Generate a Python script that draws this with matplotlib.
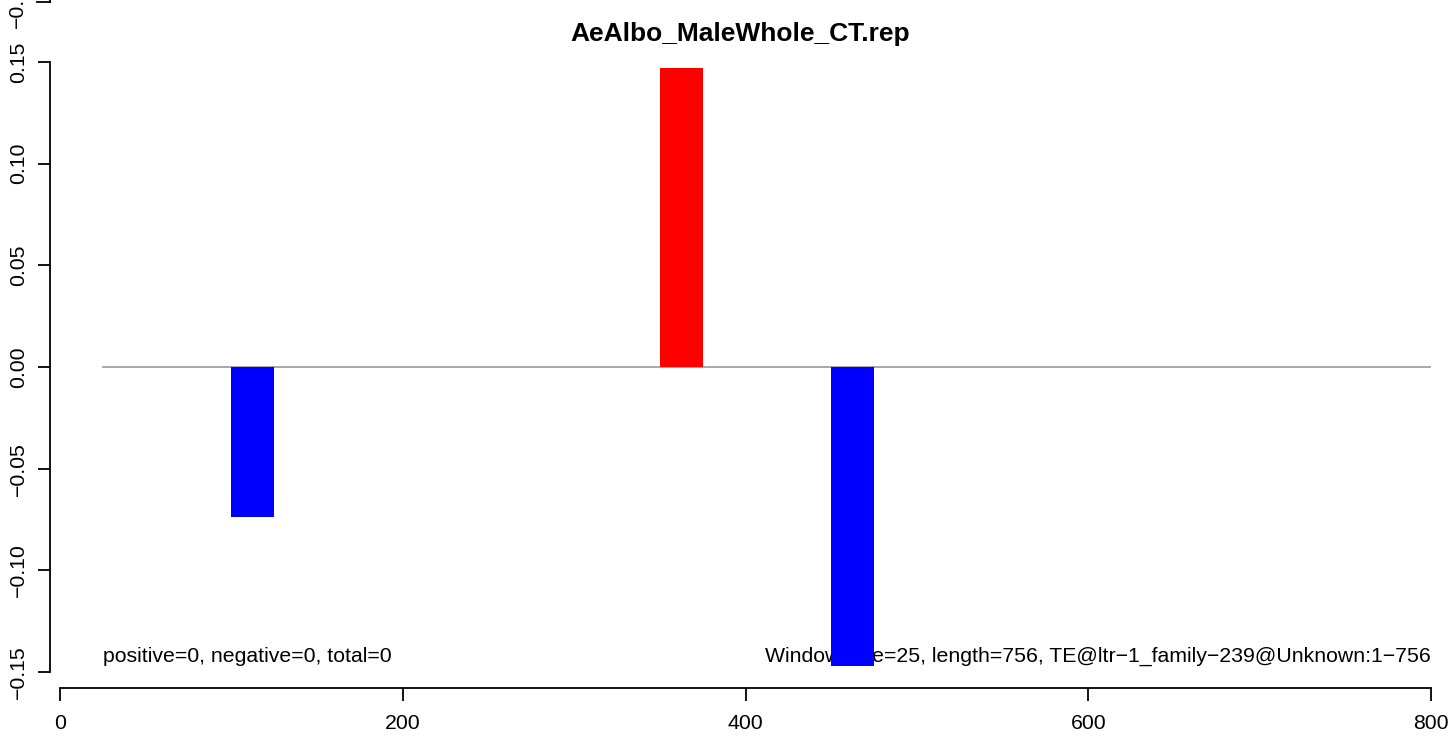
import matplotlib
matplotlib.use('Agg')
from matplotlib import pyplot as plt
import numpy as np

# window starts, window size and signed values
win_start = [100, 350, 450]
win_size = 25
values = [-0.0738, 0.147, -0.147]
line_start, line_end = 25, 800

title = 'AeAlbo_MaleWhole_CT.rep'
left_note = 'positive=0, negative=0, total=0'
right_note = 'Window size=25, length=756, TE@ltr\u22121_family\u2212239@Unknown:1\u2212756'
xticks = [0, 200, 400, 600, 800]
yticks = [-0.15, -0.10, -0.05, 0.00, 0.05, 0.10, 0.15]

plt.rcParams['font.family'] = ['Liberation Sans', 'DejaVu Sans']

W, H = 1452, 740
fs = 15.3
fig = plt.figure(figsize=(W / 100, H / 100), dpi=100)
# axes box in pixels: left 50, right 1431, top 46, bottom 688
ax = fig.add_axes([50 / W, 1 - 688 / H, (1431 - 50) / W, (688 - 46) / H])

px_per_x = (1431 - 60) / 800
ax.set_xlim(-10 / px_per_x, 800)
ax.set_ylim(-0.1579, 0.1579)

colors = ['red' if v > 0 else 'blue' for v in values]
ax.bar(win_start, values, width=win_size, align='edge', color=colors, linewidth=0, zorder=3)
ax.plot([line_start, line_end], [0, 0], color='#999999', lw=1.2, zorder=1)

ax.spines['right'].set_visible(False)
ax.spines['top'].set_visible(False)
ax.spines['bottom'].set_bounds(0, 800)
ax.spines['left'].set_bounds(-0.15, 0.15)
for s in ['left', 'bottom']:
    ax.spines[s].set_linewidth(1.3)

ax.set_xticks(xticks)
ax.set_xticklabels([str(t) for t in xticks])
ax.set_yticks(yticks)
ax.set_yticklabels([('%.2f' % t).replace('-', '\u2212') for t in yticks],
                   rotation=90, va='center')
ax.tick_params(axis='both', length=9, width=1.3, labelsize=fs, direction='out')
ax.tick_params(axis='x', pad=10)
ax.tick_params(axis='y', pad=7)

ax.set_title(title, fontsize=19, fontweight='bold', pad=3)

ax.text(line_start, -0.1425, left_note, fontsize=fs, ha='left', va='center', zorder=2)
ax.text(800, -0.1425, right_note, fontsize=fs, ha='right', va='center', zorder=2)

# leftover tick and label at the top edge
fig.add_artist(plt.Line2D([37 / W, 50 / W], [1 - 2 / H, 1 - 2 / H], color='black', lw=1.3))
fig.add_artist(plt.Line2D([50 / W, 50 / W], [1 - 2 / H, 1.0], color='black', lw=1.3))
fig.text(17 / W, 1 - 1 / H, '\u22120.20', rotation=90, ha='center', va='center', fontsize=fs)

fig.savefig('out.png', dpi=100)
